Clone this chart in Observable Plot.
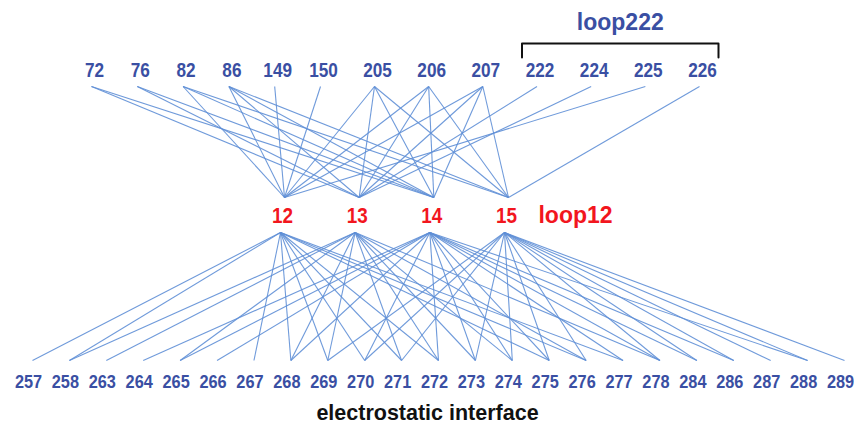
<!DOCTYPE html>
<html>
<head>
<meta charset="utf-8">
<script src="https://cdn.jsdelivr.net/npm/d3@7"></script>
<script src="https://cdn.jsdelivr.net/npm/@observablehq/plot@0.6"></script>
<style>
  html, body { margin: 0; padding: 0; background: #ffffff; }
  #chart svg { display: block; }
</style>
</head>
<body>
<div id="chart"></div>
<script>
// ---- data ----
const topLeftResidues  = ["72", "76", "82", "86", "149", "150"];
const topRightResidues = ["205", "206", "207", "222", "224", "225", "226"];
const loop222Residues  = ["222", "224", "225", "226"];
const loop12Residues   = ["12", "13", "14", "15"];
const interfaceResidues = ["257", "258", "263", "264", "265", "266", "267", "268", "269", "270", "271", "272",
                           "273", "274", "275", "276", "277", "278", "284", "286", "287", "288", "289"];

// contacts: upper residue -> loop12 residue
const upperContacts = [
  ["72", "13"], ["72", "14"],
  ["76", "13"], ["76", "14"],
  ["82", "12"], ["82", "14"], ["82", "15"],
  ["86", "12"], ["86", "13"], ["86", "14"], ["86", "15"],
  ["149", "12"],
  ["150", "12"],
  ["205", "12"], ["205", "13"], ["205", "14"], ["205", "15"],
  ["206", "12"], ["206", "13"], ["206", "14"], ["206", "15"],
  ["207", "12"], ["207", "13"], ["207", "14"], ["207", "15"],
  ["222", "13"],
  ["224", "13"],
  ["225", "12"],
  ["226", "15"]
];

// contacts: loop12 residue -> electrostatic interface residue
const interfaceContacts12 = ["257", "258", "267", "268", "269", "270", "271", "272", "275", "276", "277"];
const interfaceContacts13 = ["258", "263", "265", "268", "269", "271", "272", "273", "274", "276", "278"];
const interfaceContacts14 = ["264", "265", "266", "268", "270", "272", "273", "274", "275", "277", "278", "284", "286", "288"];
const interfaceContacts15 = ["269", "270", "271", "273", "274", "275", "276", "278", "284", "286", "287", "288", "289"];

const titleText = "electrostatic interface";
const loop222Label = "loop222";
const loop12Label = "loop12";

// ---- layout ----
const W = 854, H = 431;
const rowY = { topLabel: 70, topAnchor: 86, midAnchorUp: 197, midLabel: 215, midAnchorDown: 232, botAnchor: 360, botLabel: 381, loop222: 22, bracket: 43, bracketFoot: 57, caption: 413 };

const sTopLeft  = Plot.scale({x: {type: "point", domain: topLeftResidues,  range: [94, 323], padding: 0}});
const sTopRight = Plot.scale({x: {type: "point", domain: topRightResidues, range: [377, 702], padding: 0}});
const sMid      = Plot.scale({x: {type: "point", domain: loop12Residues,   range: [282, 506], padding: 0}});
const sBot      = Plot.scale({x: {type: "point", domain: interfaceResidues, range: [28, 840], padding: 0}});

const topX = r => topLeftResidues.includes(r) ? sTopLeft.apply(r) : sTopRight.apply(r);
const topNodes = [...topLeftResidues, ...topRightResidues].map(r => ({r, x: topX(r)}));
const midNodes = loop12Residues.map(r => ({r, x: sMid.apply(r)}));
const botNodes = interfaceResidues.map(r => ({r, x: sBot.apply(r)}));

const upperLinks = upperContacts.map(([a, b]) => ({x1: topX(a) - 3, x2: sMid.apply(b) + 2}));
const lowerContacts = [
  ...interfaceContacts12.map(t => ["12", t]),
  ...interfaceContacts13.map(t => ["13", t]),
  ...interfaceContacts14.map(t => ["14", t]),
  ...interfaceContacts15.map(t => ["15", t])
];
const lowerLinks = lowerContacts.map(([a, b]) => ({x1: sMid.apply(a) - 2, x2: sBot.apply(b) + 4}));

const bx1 = topX(loop222Residues[0]) - 18;
const bx2 = topX(loop222Residues[loop222Residues.length - 1]) + 16;
const bracket = [[bx1, rowY.bracketFoot], [bx1, rowY.bracket], [bx2, rowY.bracket], [bx2, rowY.bracketFoot]];

const blue = "#3a4fa3";
const red = "#f2161e";
const lineColor = "#5f8fd6";
const font = "'Liberation Sans', Arial, sans-serif";

const chart = Plot.plot({
  width: W,
  height: H,
  margin: 0,
  x: {type: "linear", domain: [0, W], range: [0, W], axis: null},
  y: {type: "linear", domain: [0, H], range: [0, H], axis: null},
  style: {fontFamily: font, background: "#ffffff"},
  marks: [
    Plot.link(upperLinks, {x1: "x1", x2: "x2", y1: rowY.topAnchor, y2: rowY.midAnchorUp, stroke: lineColor, strokeWidth: 1.1, strokeOpacity: 0.9}),
    Plot.link(lowerLinks, {x1: "x1", x2: "x2", y1: rowY.midAnchorDown, y2: rowY.botAnchor, stroke: lineColor, strokeWidth: 1.1, strokeOpacity: 0.9}),
    Plot.line(bracket, {x: d => d[0], y: d => d[1], stroke: "#111111", strokeWidth: 2, curve: "linear"}),
    Plot.text(topNodes, {x: "x", y: rowY.topLabel, text: "r", fill: blue, fontSize: 20, fontWeight: "bold"}),
    Plot.text(midNodes, {x: "x", y: rowY.midLabel, text: "r", fill: red, fontSize: 22, fontWeight: "bold"}),
    Plot.text(botNodes, {x: "x", y: rowY.botLabel, text: "r", fill: blue, fontSize: 19, fontWeight: "bold"}),
    Plot.text([loop12Label], {x: 575, y: rowY.midLabel, text: d => d, fill: red, fontSize: 23, fontWeight: "bold"}),
    Plot.text([loop222Label], {x: (bx1 + bx2) / 2, y: rowY.loop222, text: d => d, fill: blue, fontSize: 23, fontWeight: "bold"}),
    Plot.text([titleText], {x: W / 2, y: rowY.caption, text: d => d, fill: "#111111", fontSize: 21.5, fontWeight: "bold"})
  ]
});

// condense the residue-number labels horizontally (the reference uses a narrow face)
const digitSets = new Set([...topLeftResidues, ...topRightResidues, ...loop12Residues, ...interfaceResidues]);
d3.select(chart).selectAll("text").each(function () {
  const t = d3.select(this);
  if (!digitSets.has(t.text())) return;
  const tr = t.attr("transform");
  if (tr) {
    t.attr("transform", `${tr} scale(0.86,1)`);
  } else if (t.attr("x") != null && t.attr("y") != null) {
    const x = +t.attr("x"), y = +t.attr("y");
    t.attr("transform", `translate(${x},${y}) scale(0.86,1) translate(${-x},${-y})`);
  }
});
document.getElementById("chart").appendChild(chart);
</script>
</body>
</html>
